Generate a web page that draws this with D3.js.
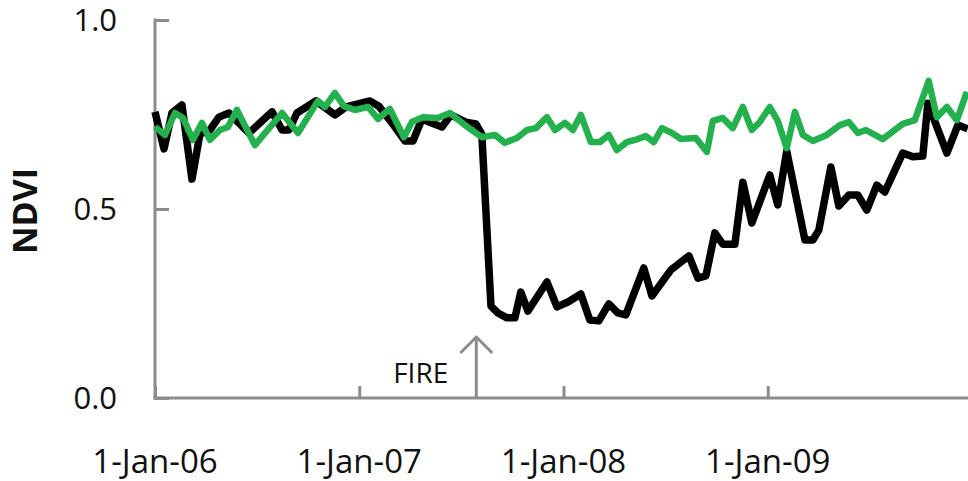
<!DOCTYPE html>
<html><head><meta charset="utf-8">
<script src="https://cdn.jsdelivr.net/npm/d3@7"></script>
<style>html,body{margin:0;padding:0;background:#fff;}svg{display:block;}</style>
</head><body>
<svg id="c" width="968" height="481"></svg>
<script>
// Decimal years after 1-Jan-2006
const burnedYears = [0.000,0.044,0.083,0.132,0.181,0.220,0.269,0.313,0.362,0.460,0.573,0.622,0.656,0.695,0.788,0.881,0.935,0.994,1.052,1.096,1.160,1.224,1.263,1.307,1.351,1.405,1.449,1.522,1.571,1.600,1.645,1.679,1.723,1.762,1.791,1.826,1.919,1.968,2.022,2.085,2.129,2.173,2.222,2.266,2.305,2.393,2.433,2.526,2.614,2.658,2.697,2.741,2.780,2.839,2.878,2.922,3.010,3.049,3.093,3.182,3.221,3.250,3.309,3.348,3.397,3.441,3.485,3.534,3.573,3.661,3.710,3.759,3.784,3.877,3.931,3.979];
const burnedNDVI = [0.757,0.659,0.754,0.775,0.579,0.698,0.709,0.743,0.754,0.701,0.757,0.709,0.709,0.754,0.786,0.749,0.770,0.778,0.786,0.772,0.728,0.680,0.680,0.738,0.728,0.717,0.749,0.730,0.725,0.698,0.243,0.225,0.212,0.212,0.280,0.230,0.307,0.241,0.254,0.275,0.206,0.204,0.249,0.225,0.220,0.344,0.270,0.339,0.376,0.317,0.323,0.437,0.407,0.407,0.571,0.463,0.590,0.511,0.653,0.418,0.418,0.444,0.611,0.508,0.537,0.537,0.497,0.563,0.545,0.648,0.638,0.640,0.780,0.648,0.722,0.712];
const controlYears = [0.000,0.049,0.098,0.137,0.186,0.230,0.269,0.318,0.357,0.401,0.489,0.622,0.700,0.798,0.832,0.881,0.925,0.979,1.043,1.092,1.150,1.219,1.258,1.312,1.385,1.444,1.517,1.600,1.664,1.713,1.772,1.821,1.865,1.919,1.958,2.007,2.046,2.085,2.134,2.178,2.222,2.261,2.310,2.364,2.403,2.442,2.482,2.531,2.575,2.648,2.702,2.731,2.780,2.829,2.878,2.922,2.961,3.010,3.049,3.093,3.133,3.172,3.221,3.289,3.353,3.397,3.441,3.480,3.563,3.661,3.720,3.788,3.828,3.877,3.926,3.975];
const controlNDVI = [0.717,0.696,0.754,0.741,0.683,0.728,0.683,0.709,0.717,0.762,0.669,0.754,0.701,0.786,0.770,0.807,0.772,0.762,0.770,0.738,0.765,0.690,0.730,0.743,0.741,0.754,0.722,0.690,0.696,0.675,0.688,0.709,0.714,0.743,0.709,0.728,0.709,0.749,0.677,0.677,0.696,0.656,0.677,0.685,0.693,0.677,0.714,0.701,0.685,0.688,0.651,0.733,0.741,0.714,0.770,0.709,0.730,0.770,0.733,0.661,0.757,0.696,0.680,0.696,0.722,0.730,0.701,0.709,0.685,0.725,0.735,0.839,0.743,0.770,0.735,0.810];
const xTickValues = [0,1,2,3];
const xTickLabels = ["1-Jan-06","1-Jan-07","1-Jan-08","1-Jan-09"];
const yTickValues = [0,0.5,1.0];
const fireYear = 1.573;
const fireLabel = "FIRE";
const yTitle = "NDVI";

const svg = d3.select("#c");
const x = d3.scaleLinear().domain([0,4]).range([155,972]);
const y = d3.scaleLinear().domain([0,1]).range([398,20]);
const axisColor = "#8c8c8c";
const font = "'Open Sans', Lato, sans-serif";

// Y axis
const ya = svg.append("g").attr("transform","translate(155,0)")
  .call(d3.axisRight(y).tickValues(yTickValues).tickSize(14).tickFormat(""));
ya.select(".domain").remove();
ya.selectAll("line").attr("stroke",axisColor).attr("stroke-width",3);
svg.append("line").attr("x1",155).attr("x2",155).attr("y1",y(1)-1.5).attr("y2",y(0)+1.5)
  .attr("stroke",axisColor).attr("stroke-width",3);
svg.append("g").selectAll("text").data(yTickValues).join("text")
  .attr("x",117).attr("y",d=>y(d)).attr("dy","0.36em").attr("text-anchor","end")
  .style("font-family",font).style("font-size","31px").attr("fill","#111")
  .text(d=>d3.format(".1f")(d));

// X axis
const xa = svg.append("g").attr("transform","translate(0,398)")
  .call(d3.axisTop(x).tickValues(xTickValues).tickSize(12).tickFormat(""));
xa.select(".domain").remove();
xa.selectAll("line").attr("stroke",axisColor).attr("stroke-width",3);
svg.append("line").attr("x1",153.5).attr("x2",968).attr("y1",398).attr("y2",398)
  .attr("stroke",axisColor).attr("stroke-width",3);
svg.append("g").selectAll("text").data(xTickValues).join("text")
  .attr("x",d=>x(d)).attr("y",473).attr("text-anchor","middle")
  .style("font-family",font).style("font-size","33px").attr("fill","#111")
  .text((d,i)=>xTickLabels[i]);

// Y title
svg.append("text").attr("transform","translate(37,211) rotate(-90)")
  .attr("text-anchor","middle").style("font-family",font).style("font-size","34px")
  .style("font-weight","bold").attr("fill","#111").text(yTitle);

// Fire arrow
const fx = x(fireYear);
svg.append("line").attr("x1",fx).attr("x2",fx).attr("y1",398).attr("y2",337)
  .attr("stroke",axisColor).attr("stroke-width",3);
svg.append("path").attr("d",`M${fx-16},${353}L${fx},${337}L${fx+16},${353}`)
  .attr("fill","none").attr("stroke",axisColor).attr("stroke-width",3);
svg.append("text").attr("x",fx-28).attr("y",383).attr("text-anchor","end")
  .style("font-family",font).style("font-size","28px").attr("fill","#111").text(fireLabel);

// Lines
const line = d3.line().x(d=>x(d[0])).y(d=>y(d[1]));
const burned = burnedYears.map((t,i)=>[t,burnedNDVI[i]]);
const control = controlYears.map((t,i)=>[t,controlNDVI[i]]);
svg.append("path").datum(burned).attr("d",line).attr("fill","none")
  .attr("stroke","#000").attr("stroke-width",7.5).attr("stroke-linejoin","round");
svg.append("path").datum(control).attr("d",line).attr("fill","none")
  .attr("stroke","#22b14c").attr("stroke-width",6.5).attr("stroke-linejoin","round");
</script>
</body></html>
